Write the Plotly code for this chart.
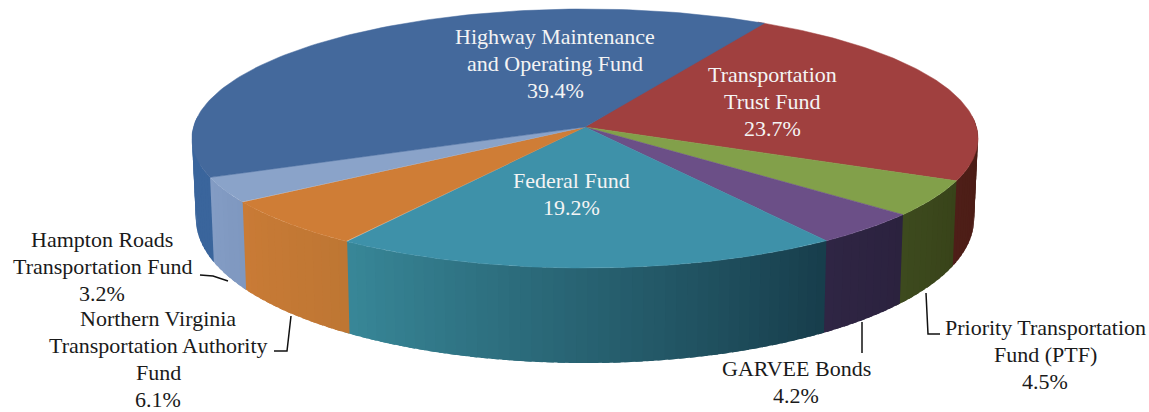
import numpy as np
import plotly.graph_objects as go

# --- data ---
labels = ["Transportation<br>Trust Fund", "Priority Transportation<br>Fund (PTF)", "GARVEE Bonds",
          "Federal Fund", "Northern Virginia<br>Transportation Authority<br>Fund",
          "Hampton Roads<br>Transportation Fund", "Highway Maintenance<br>and Operating Fund"]
values = [23.7, 4.5, 4.2, 19.2, 6.1, 3.2, 39.4]
top_colors = ["#A0403F", "#82A04A", "#6B4F87", "#3E91A9", "#CF7D36", "#8AA3C9", "#44699C"]
side_left = ["#4E1E18", "#3D4A1E", "#2F2544", "#388798", "#C97B36", "#839CC4", "#3A659C"]
side_right = ["#4A1C14", "#384319", "#2B223E", "#173D4B", "#BE7633", "#7F98C0", "#3A659C"]
label_xy = [(772, 101), (1045, 354), (796, 382), (571, 194), (158, 359), (102, 266), (555, 63)]
label_color = ["#F4F4F4", "#1A1A1A", "#1A1A1A", "#F4F4F4", "#1A1A1A", "#1A1A1A", "#F4F4F4"]
leaders = ["M200,275 L213,276 L228,281", "M291,316 L287,351 L274,351",
           "M926,293 L928,334 L940,334", "M862,322 L862,353"]
LINE_GAP = 27

# --- projection of the tilted disc ---
START, CX, CY, A, B, K = 28.5, 585.0, 127.0, 391.5, 128.5, 0.0888


def top(theta):
    s, c = np.sin(np.radians(theta)), np.cos(np.radians(theta))
    w = 1 + K * c
    return CX + A * s / w, CY - B * c / w


def bottom(theta):
    x, y = top(theta)
    c = np.cos(np.radians(theta))
    return CX + (x - CX) * 0.99, y + 78.6 - 16.4 * c


def mix(a, b, t):
    pa = [int(a[i:i + 2], 16) for i in (1, 3, 5)]
    pb = [int(b[i:i + 2], 16) for i in (1, 3, 5)]
    return "#%02X%02X%02X" % tuple(round(p + (q - p) * t) for p, q in zip(pa, pb))


edges = START + np.cumsum([0] + values) * 3.6
fig = go.Figure()

# sides: visible part only, as overlapping thin strips for the shading
for i in range(len(values)):
    lo, hi = max(edges[i], 85), min(edges[i + 1], 275)
    if hi <= lo:
        continue
    n = max(2, int((hi - lo) / 1.5))
    cuts = np.linspace(lo, hi, n + 1)
    for j in range(n):
        th = np.linspace(cuts[j], min(cuts[j + 1] + 1.0, 275), 5)
        tx, ty = top(th)
        bx, by = bottom(th[::-1])
        col = mix(side_right[i], side_left[i], (j + 0.5) / n)
        fig.add_trace(go.Scatter(x=np.r_[tx, bx], y=np.r_[ty, by], fill="toself", mode="lines",
                                 fillcolor=col, line=dict(width=0), hoverinfo="skip"))

# top faces
for i in range(len(values)):
    th = np.linspace(edges[i], edges[i + 1], 120)
    tx, ty = top(th)
    fig.add_trace(go.Scatter(x=np.r_[CX, tx, CX], y=np.r_[CY, ty, CY], fill="toself", mode="lines",
                             fillcolor=top_colors[i], line=dict(color=top_colors[i], width=0.5),
                             hoverinfo="skip"))

for lab, v, (lx, ly), col in zip(labels, values, label_xy, label_color):
    lines = lab.split("<br>") + [f"{v}%"]
    for k, text in enumerate(lines):
        fig.add_annotation(x=lx, y=ly + (k - (len(lines) - 1) / 2) * LINE_GAP, text=text,
                           showarrow=False, align="center",
                           font=dict(family="Liberation Serif", size=22, color=col))

for p in leaders:
    fig.add_shape(type="path", path=p, line=dict(color="#111111", width=1.5))

fig.update_xaxes(range=[0, 1149], visible=False)
fig.update_yaxes(range=[412, 0], visible=False)
fig.update_layout(width=1149, height=412, margin=dict(l=0, r=0, t=0, b=0), showlegend=False,
                  plot_bgcolor="white", paper_bgcolor="white")
fig.write_html("out.html", config=dict(displayModeBar=False),
               post_script="document.body.style.margin='0';document.body.style.overflow='hidden';")
